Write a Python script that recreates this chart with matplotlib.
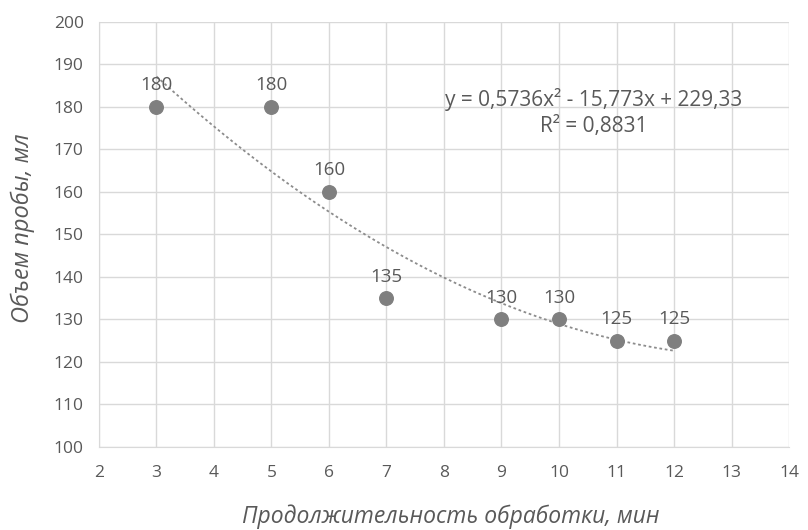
import matplotlib.pyplot as plt
import numpy as np

# processing time, min / sample volume, ml
duration = [3, 5, 6, 7, 9, 10, 11, 12]
volume = [180, 180, 160, 135, 130, 130, 125, 125]

# polynomial trendline coefficients (a, b, c) and R^2
coef = [0.5736, -15.773, 229.33]
r2 = 0.8831

plt.rcParams['font.family'] = ['Open Sans', 'DejaVu Sans']

fig = plt.figure(figsize=(8.08, 5.30), dpi=100)
ax = fig.add_axes([0.1225, 0.1566, 0.854, 0.802])

grid_c = '#d9d9d9'
text_c = '#595959'

xs = np.linspace(min(duration), max(duration), 200)
ax.plot(xs, np.polyval(coef, xs), color='#8c8c8c', lw=1.3, ls=(0, (1.5, 1.5)), zorder=2)

ax.scatter(duration, volume, s=95, color='#7f7f7f', zorder=3)
for x, y in zip(duration, volume):
    ax.annotate(str(y), (x, y), xytext=(0, 9), textcoords='offset points',
                ha='center', va='bottom', fontsize=13.5, color=text_c)

eq = 'y = {:.4f}x² - {:.3f}x + {:.2f}'.format(coef[0], -coef[1], coef[2]).replace('.', ',')
eq += '\nR² = {:.4f}'.format(r2).replace('.', ',')
ax.text(10.6, 178.7, eq, ha='center', va='center', fontsize=15,
        color=text_c, linespacing=1.35)

ax.set_xlim(2, 14)
ax.set_ylim(100, 200)
ax.set_xticks(range(2, 15))
ax.set_yticks(range(100, 201, 10))
ax.grid(True, color=grid_c, lw=1)
ax.set_axisbelow(True)

for side in ['top', 'right']:
    ax.spines[side].set_visible(False)
ax.spines['left'].set_color(grid_c)
ax.spines['bottom'].set_color(grid_c)
ax.tick_params(length=0, colors=text_c, labelsize=12.5)
ax.tick_params(axis='x', pad=13)
ax.tick_params(axis='y', pad=11)

ax.set_xlabel('Продолжительность обработки, мин', fontsize=16.5, style='italic',
              color=text_c)
ax.xaxis.set_label_coords(0.51, -0.135)
ax.set_ylabel('Объем пробы, мл', fontsize=17, style='italic', color=text_c)
ax.yaxis.set_label_coords(-0.093, 0.515)

plt.savefig('out.png', dpi=100)
plt.close()
